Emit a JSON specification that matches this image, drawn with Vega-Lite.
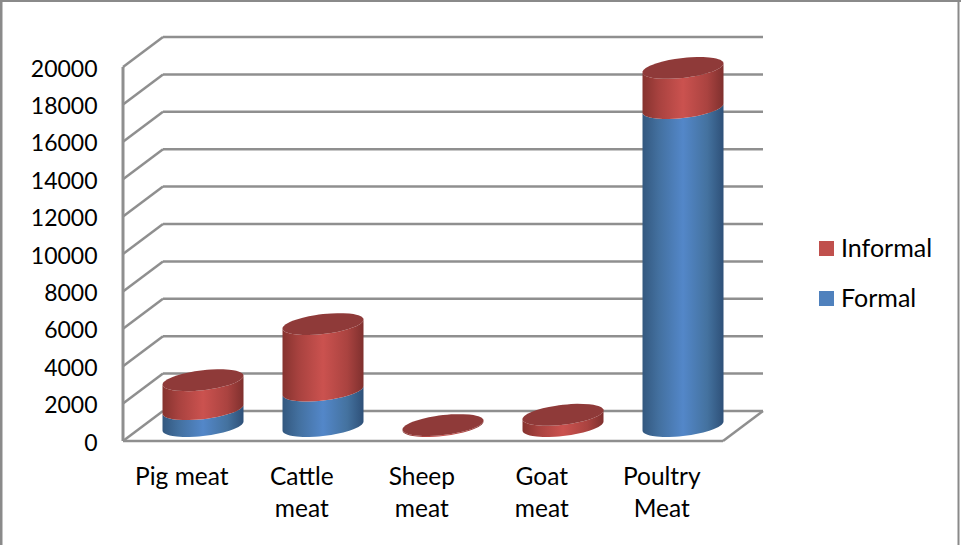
{
  "$schema": "https://vega.github.io/schema/vega-lite/v6.json",
  "width": 961,
  "height": 545,
  "padding": 0,
  "autosize": {"type": "none"},
  "background": "#ffffff",
  "config": {"view": {"stroke": null}, "font": "Lato"},
  "encoding": {
    "x": {"field": "gx", "type": "quantitative", "axis": null,
          "scale": {"domain": [-1.025, 6.98333], "nice": false, "zero": false}},
    "y": {"field": "gy", "type": "quantitative",
          "scale": {"domain": [-5561.4, 23582.9], "nice": false, "zero": false},
          "axis": {"title": null, "orient": "left", "offset": -97, "domain": false, "ticks": false, "grid": false,
                   "labelPadding": 0, "labelOffset": 2, "labelFont": "Lato", "labelFontSize": 23, "labelColor": "#000000",
                   "values": [0, 2000, 4000, 6000, 8000, 10000, 12000, 14000, 16000, 18000, 20000], "format": "d"}}
  },
  "layer": [
    {
      "data": {"values": [{"tick": 0}, {"tick": 2000}, {"tick": 4000}, {"tick": 6000}, {"tick": 8000}, {"tick": 10000}, {"tick": 12000}, {"tick": 14000}, {"tick": 16000}, {"tick": 18000}, {"tick": 20000}]},
      "transform": [
        {"calculate": "0", "as": "gx"},
        {"calculate": "1/3", "as": "gx2"},
        {"calculate": "datum.tick", "as": "gy"},
        {"calculate": "datum.tick + 1604", "as": "gy2"}
      ],
      "mark": {"type": "rule", "color": "#8f8f8f", "strokeWidth": 2.5},
      "encoding": {"x2": {"field": "gx2"}, "y2": {"field": "gy2"}}
    },
    {
      "data": {"values": [{"tick": 0}, {"tick": 2000}, {"tick": 4000}, {"tick": 6000}, {"tick": 8000}, {"tick": 10000}, {"tick": 12000}, {"tick": 14000}, {"tick": 16000}, {"tick": 18000}, {"tick": 20000}]},
      "transform": [
        {"calculate": "1/3", "as": "gx"},
        {"calculate": "16/3", "as": "gx2"},
        {"calculate": "datum.tick + 1604", "as": "gy"}
      ],
      "mark": {"type": "rule", "color": "#8f8f8f", "strokeWidth": 2.5},
      "encoding": {"x2": {"field": "gx2"}}
    },
    {
      "data": {"values": [{"tick": 0}]},
      "transform": [
        {"calculate": "0", "as": "gx"},
        {"calculate": "5", "as": "gx2"},
        {"calculate": "datum.tick", "as": "gy"}
      ],
      "mark": {"type": "rule", "color": "#8f8f8f", "strokeWidth": 2.5},
      "encoding": {"x2": {"field": "gx2"}}
    },
    {
      "data": {"values": [{"tick": 0}]},
      "transform": [
        {"calculate": "5", "as": "gx"},
        {"calculate": "16/3", "as": "gx2"},
        {"calculate": "datum.tick", "as": "gy"},
        {"calculate": "datum.tick + 1604", "as": "gy2"}
      ],
      "mark": {"type": "rule", "color": "#8f8f8f", "strokeWidth": 2.5},
      "encoding": {"x2": {"field": "gx2"}, "y2": {"field": "gy2"}}
    },
    {
      "data": {"values": [{"tick": 0}]},
      "transform": [
        {"calculate": "0", "as": "gx"},
        {"calculate": "datum.tick", "as": "gy"},
        {"calculate": "20000", "as": "gy2"}
      ],
      "mark": {"type": "rule", "color": "#8f8f8f", "strokeWidth": 3},
      "encoding": {"y2": {"field": "gy2"}}
    },
    {
      "data": {"values": [{"tick": 0}]},
      "transform": [
        {"calculate": "-1.0146", "as": "gx"},
        {"calculate": "-5561.4", "as": "gy"},
        {"calculate": "23582.9", "as": "gy2"}
      ],
      "mark": {"type": "rule", "color": "#8a8a8a", "strokeWidth": 2.5},
      "encoding": {"y2": {"field": "gy2"}}
    },
    {
      "data": {"values": [{"tick": 0}]},
      "transform": [
        {"calculate": "-1.025", "as": "gx"},
        {"calculate": "6.98333", "as": "gx2"},
        {"calculate": "23529", "as": "gy"}
      ],
      "mark": {"type": "rule", "color": "#8a8a8a", "strokeWidth": 2},
      "encoding": {"x2": {"field": "gx2"}}
    },
    {
      "data": {"values": [{"tick": 0}]},
      "transform": [
        {"calculate": "6.9625", "as": "gx"},
        {"calculate": "-5561.4", "as": "gy"},
        {"calculate": "23582.9", "as": "gy2"}
      ],
      "mark": {"type": "rule", "color": "#8a8a8a", "strokeWidth": 2},
      "encoding": {"y2": {"field": "gy2"}}
    },
    {
      "data": {"values": [
        {"category": "Pig meat", "series": "Formal", "value": 900},
        {"category": "Pig meat", "series": "Informal", "value": 1550},
        {"category": "Cattle meat", "series": "Formal", "value": 1900},
        {"category": "Cattle meat", "series": "Informal", "value": 3550},
        {"category": "Sheep meat", "series": "Formal", "value": 0},
        {"category": "Sheep meat", "series": "Informal", "value": 50},
        {"category": "Goat meat", "series": "Formal", "value": 0},
        {"category": "Goat meat", "series": "Informal", "value": 600},
        {"category": "Poultry Meat", "series": "Formal", "value": 17000},
        {"category": "Poultry Meat", "series": "Informal", "value": 2150}
      ]},
      "transform": [
        {"stack": "value", "groupby": ["category"], "sort": [{"field": "series", "order": "ascending"}], "as": ["v0", "v1"]},
        {"calculate": "indexof(['Pig meat','Cattle meat','Sheep meat','Goat meat','Poultry Meat'], datum.category) + 0.6667", "as": "center"},
        {"calculate": "[-1,-0.995,-0.98,-0.955,-0.92,-0.875,-0.82,-0.75,-0.65,-0.5,-0.35,-0.2,-0.1,0,0.1,0.2,0.35,0.5,0.65,0.75,0.82,0.875,0.92,0.955,0.98,0.995,1]", "as": "u"},
        {"flatten": ["u"]},
        {"calculate": "datum.center + 0.3375 * datum.u", "as": "gx"},
        {"calculate": "535 * sqrt(1 - datum.u * datum.u)", "as": "half"},
        {"calculate": "802 + 240 * datum.u", "as": "lift"}
      ],
      "layer": [
        {
          "transform": [
            {"filter": "datum.series === 'Formal' && datum.value > 0"},
            {"calculate": "datum.v0 + datum.lift - datum.half", "as": "gy"},
            {"calculate": "datum.v1 + datum.lift - datum.half", "as": "gy2"}
          ],
          "mark": {"type": "area", "orient": "vertical", "fill": {"gradient": "linear", "x1": 0, "y1": 0, "x2": 1, "y2": 0, "stops": [
            {"offset": 0, "color": "#33587f"}, {"offset": 0.2, "color": "#43709f"}, {"offset": 0.5, "color": "#5387c9"}, {"offset": 0.8, "color": "#44729f"}, {"offset": 1, "color": "#2e5078"}]}},
          "encoding": {"detail": {"field": "category"}, "y2": {"field": "gy2"}}
        },
        {
          "transform": [
            {"filter": "datum.series === 'Informal'"},
            {"calculate": "datum.v0 + datum.lift - datum.half", "as": "gy"},
            {"calculate": "datum.v1 + datum.lift - datum.half", "as": "gy2"}
          ],
          "mark": {"type": "area", "orient": "vertical", "fill": {"gradient": "linear", "x1": 0, "y1": 0, "x2": 1, "y2": 0, "stops": [
            {"offset": 0, "color": "#86332f"}, {"offset": 0.2, "color": "#a8423f"}, {"offset": 0.5, "color": "#cb524f"}, {"offset": 0.8, "color": "#aa4340"}, {"offset": 1, "color": "#7f302e"}]}},
          "encoding": {"detail": {"field": "category"}, "y2": {"field": "gy2"}}
        },
        {
          "transform": [
            {"filter": "datum.series === 'Informal'"},
            {"calculate": "datum.v1 + datum.lift - datum.half", "as": "gy"},
            {"calculate": "datum.v1 + datum.lift + datum.half", "as": "gy2"}
          ],
          "mark": {"type": "area", "orient": "vertical", "fill": "#8f3a39"},
          "encoding": {"detail": {"field": "category"}, "y2": {"field": "gy2"}}
        },
        {
          "mark": {"type": "point", "filled": true, "size": 0, "opacity": 0},
          "transform": [{"calculate": "datum.v1", "as": "gy"}],
          "encoding": {
            "fill": {"field": "series", "type": "nominal",
              "scale": {"domain": ["Informal", "Formal"], "range": ["#c0504d", "#4f81bd"]},
              "legend": {"title": null, "orient": "none", "legendX": 814, "legendY": 236, "symbolType": "square", "symbolSize": 225,
                         "symbolOpacity": 1, "symbolStrokeWidth": 0, "labelFont": "Lato", "labelFontSize": 25, "labelColor": "#000000",
                         "rowPadding": 24, "labelOffset": 2}}
          }
        }
      ]
    },
    {
      "data": {"values": [{"category": "Pig meat"}, {"category": "Cattle meat"}, {"category": "Sheep meat"}, {"category": "Goat meat"}, {"category": "Poultry Meat"}]},
      "transform": [
        {"calculate": "indexof(['Pig meat','Cattle meat','Sheep meat','Goat meat','Poultry Meat'], datum.category) + 0.49", "as": "gx"},
        {"calculate": "-2350", "as": "gy"},
        {"calculate": "datum.category === 'Pig meat' ? datum.category : replace(datum.category, ' ', '|')", "as": "caption"}
      ],
      "mark": {"type": "text", "font": "Lato", "fontSize": 24.5, "color": "#000000", "align": "center", "baseline": "alphabetic", "lineBreak": "|", "lineHeight": 32},
      "encoding": {"text": {"field": "caption", "type": "nominal"}}
    }
  ]
}
